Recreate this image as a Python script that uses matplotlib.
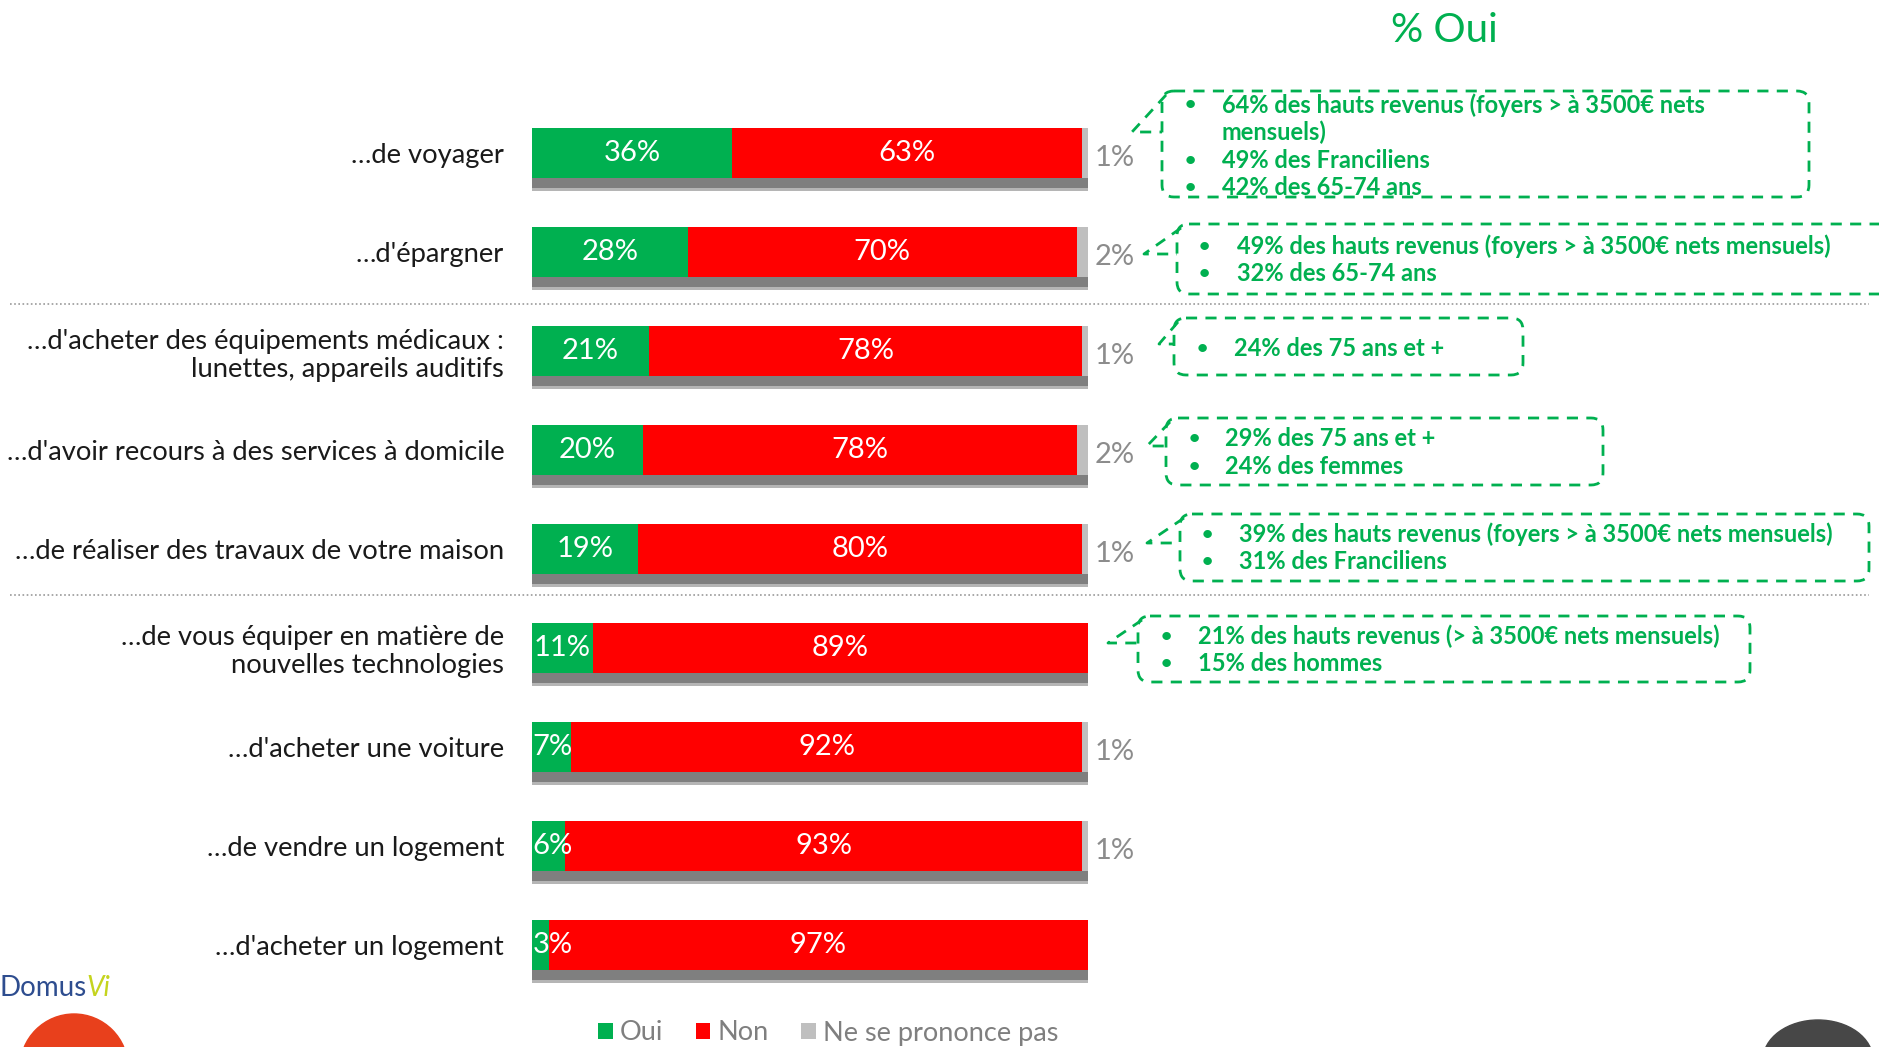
import matplotlib.pyplot as plt
from matplotlib.patches import FancyBboxPatch, Circle, Ellipse
from matplotlib.lines import Line2D

plt.rcParams['font.family'] = ['Lato', 'DejaVu Sans']

W, H = 1879, 1047
GREEN = '#00B050'
RED = '#FF0000'
GREY = '#BFBFBF'

categories = ["…de voyager", "…d'épargner",
              "…d'acheter des équipements médicaux :\nlunettes, appareils auditifs",
              "…d'avoir recours à des services à domicile",
              "…de réaliser des travaux de votre maison",
              "…de vous équiper en matière de\nnouvelles technologies",
              "…d'acheter une voiture", "…de vendre un logement",
              "…d'acheter un logement"]
oui = [36, 28, 21, 20, 19, 11, 7, 6, 3]
non = [63, 70, 78, 78, 80, 89, 92, 93, 97]
nsp = [1, 2, 1, 2, 1, 0, 1, 1, 0]

legend_labels = ["Oui", "Non", "Ne se prononce pas"]

notes = [
    ["64% des hauts revenus (foyers > à 3500€ nets", "mensuels)", "49% des Franciliens", "42% des 65-74 ans"],
    ["49% des hauts revenus (foyers > à 3500€ nets mensuels)", "32% des 65-74 ans"],
    ["24% des 75 ans et +"],
    ["29% des 75 ans et +", "24% des femmes"],
    ["39% des hauts revenus (foyers > à 3500€ nets mensuels)", "31% des Franciliens"],
    ["21% des hauts revenus (> à 3500€ nets mensuels)", "15% des hommes"],
]
note_bullets = [[True, False, True, True], [True, True], [True], [True, True], [True, True], [True, True]]

fig = plt.figure(figsize=(W / 100, H / 100), dpi=100)

# overlay in pixel units for the decorations
ov = fig.add_axes([0, 0, 1, 1])
ov.set_xlim(0, W)
ov.set_ylim(H, 0)
ov.axis('off')

# main bar axes
ax = fig.add_axes([532 / W, 1 - 994.5 / H, 556 / W, 891 / H])
ax.patch.set_alpha(0)
ys = list(range(len(categories)))
h = 0.495
tot = [a + b + c for a, b, c in zip(oui, non, nsp)]

ax.barh([y + 0.14 for y in ys], [t + 0.8 for t in tot], height=h, color='#b5b5b5', zorder=1)
ax.barh([y + 0.11 for y in ys], [t + 0.5 for t in tot], height=h, color='#7f7f7f', zorder=1)
b1 = ax.barh(ys, oui, height=h, color=GREEN, zorder=2, label=legend_labels[0])
b2 = ax.barh(ys, non, left=oui, height=h, color=RED, zorder=2, label=legend_labels[1])
b3 = ax.barh(ys, nsp, left=[a + b for a, b in zip(oui, non)], height=h, color=GREY, zorder=2,
             label=legend_labels[2])

for y, a, b, c in zip(ys, oui, non, nsp):
    if a >= 10:
        ax.text(a / 2, y, f"{a}%", ha='center', va='center', color='white', fontsize=21, zorder=3)
    else:
        ax.text(0.1, y, f"{a}%", ha='left', va='center', color='white', fontsize=21, zorder=3)
    ax.text(a + b / 2, y, f"{b}%", ha='center', va='center', color='white', fontsize=21, zorder=3)
    if c > 0:
        ax.text(101.2, y + 0.05, f"{c}%", ha='left', va='center', color='#8c8c8c', fontsize=21)

ax.set_xlim(0, 100)
ax.set_ylim(8.5, -0.5)
ax.set_yticks(ys)
ax.set_yticklabels(categories, fontsize=19.7, color='#1a1a1a', linespacing=1.15)
ax.tick_params(axis='y', length=0, pad=20)
ax.set_xticks([])
for s in ax.spines.values():
    s.set_visible(False)

ax.legend(handles=[b1, b2, b3], loc='center', bbox_to_anchor=(828 / W, 1 - 1033 / H),
          bbox_transform=fig.transFigure, ncol=3, frameon=False, fontsize=19.5,
          labelcolor='#7f7f7f', handlelength=0.55, handleheight=0.55, handletextpad=0.25,
          columnspacing=1.2)

# dotted separators
for sy in [304, 595]:
    ov.plot([10, 1869], [sy, sy], color='#9a9a9a', lw=1.2, linestyle=(0, (1, 1.5)))

# title
ov.text(1444, 30, "% Oui", color=GREEN, fontsize=29, ha='center', va='center')

# callout boxes: left, top, right, bottom, tip_x, tip_y, bullet_x, text_x, first line y
boxes = [
    (1162, 91, 1809, 197, 1132, 132, 1190, 1222, 105),
    (1177, 224, 1900, 294, 1144, 254, 1204, 1237, 246),
    (1174, 318, 1523, 375, 1159, 344, 1202, 1234, 348),
    (1166, 418, 1603, 485, 1147, 446, 1194, 1225, 439),
    (1180, 514, 1869, 581, 1147, 543, 1207, 1239, 534),
    (1138, 616, 1750, 682, 1108, 643, 1166, 1198, 636),
]
dash = (0, (4, 3))
for (l, t, r, b, tx, ty, bx, txx, ly), lines, bul in zip(boxes, notes, note_bullets):
    ov.add_patch(FancyBboxPatch((l, t), r - l, b - t, boxstyle="round,pad=0,rounding_size=12",
                                fill=False, ec=GREEN, lw=2, linestyle=dash))
    ov.add_line(Line2D([l + 4, tx, l], [t + 4, ty, ty], color=GREEN, lw=2, linestyle=dash))
    for k, (line, hb) in enumerate(zip(lines, bul)):
        yy = ly + k * 27.5
        if hb:
            ov.text(bx, yy, "•", color=GREEN, fontsize=14, ha='center', va='center', weight='bold')
        ov.text(txx, yy, line, color=GREEN, fontsize=17, ha='left', va='center', weight='bold')

# logos at the bottom
ov.text(0, 988, "Domus", color='#2e4d8f', fontsize=20, ha='left', va='center')
ov.text(86, 988, "Vi", color='#c5d41e', fontsize=20, ha='left', va='center', style='italic')
ov.add_patch(Circle((74, 1068), 54, color='#E8401C'))
ov.add_patch(Ellipse((1818, 1060), 110, 80, color='#474747'))

fig.savefig("out.png", dpi=100)
